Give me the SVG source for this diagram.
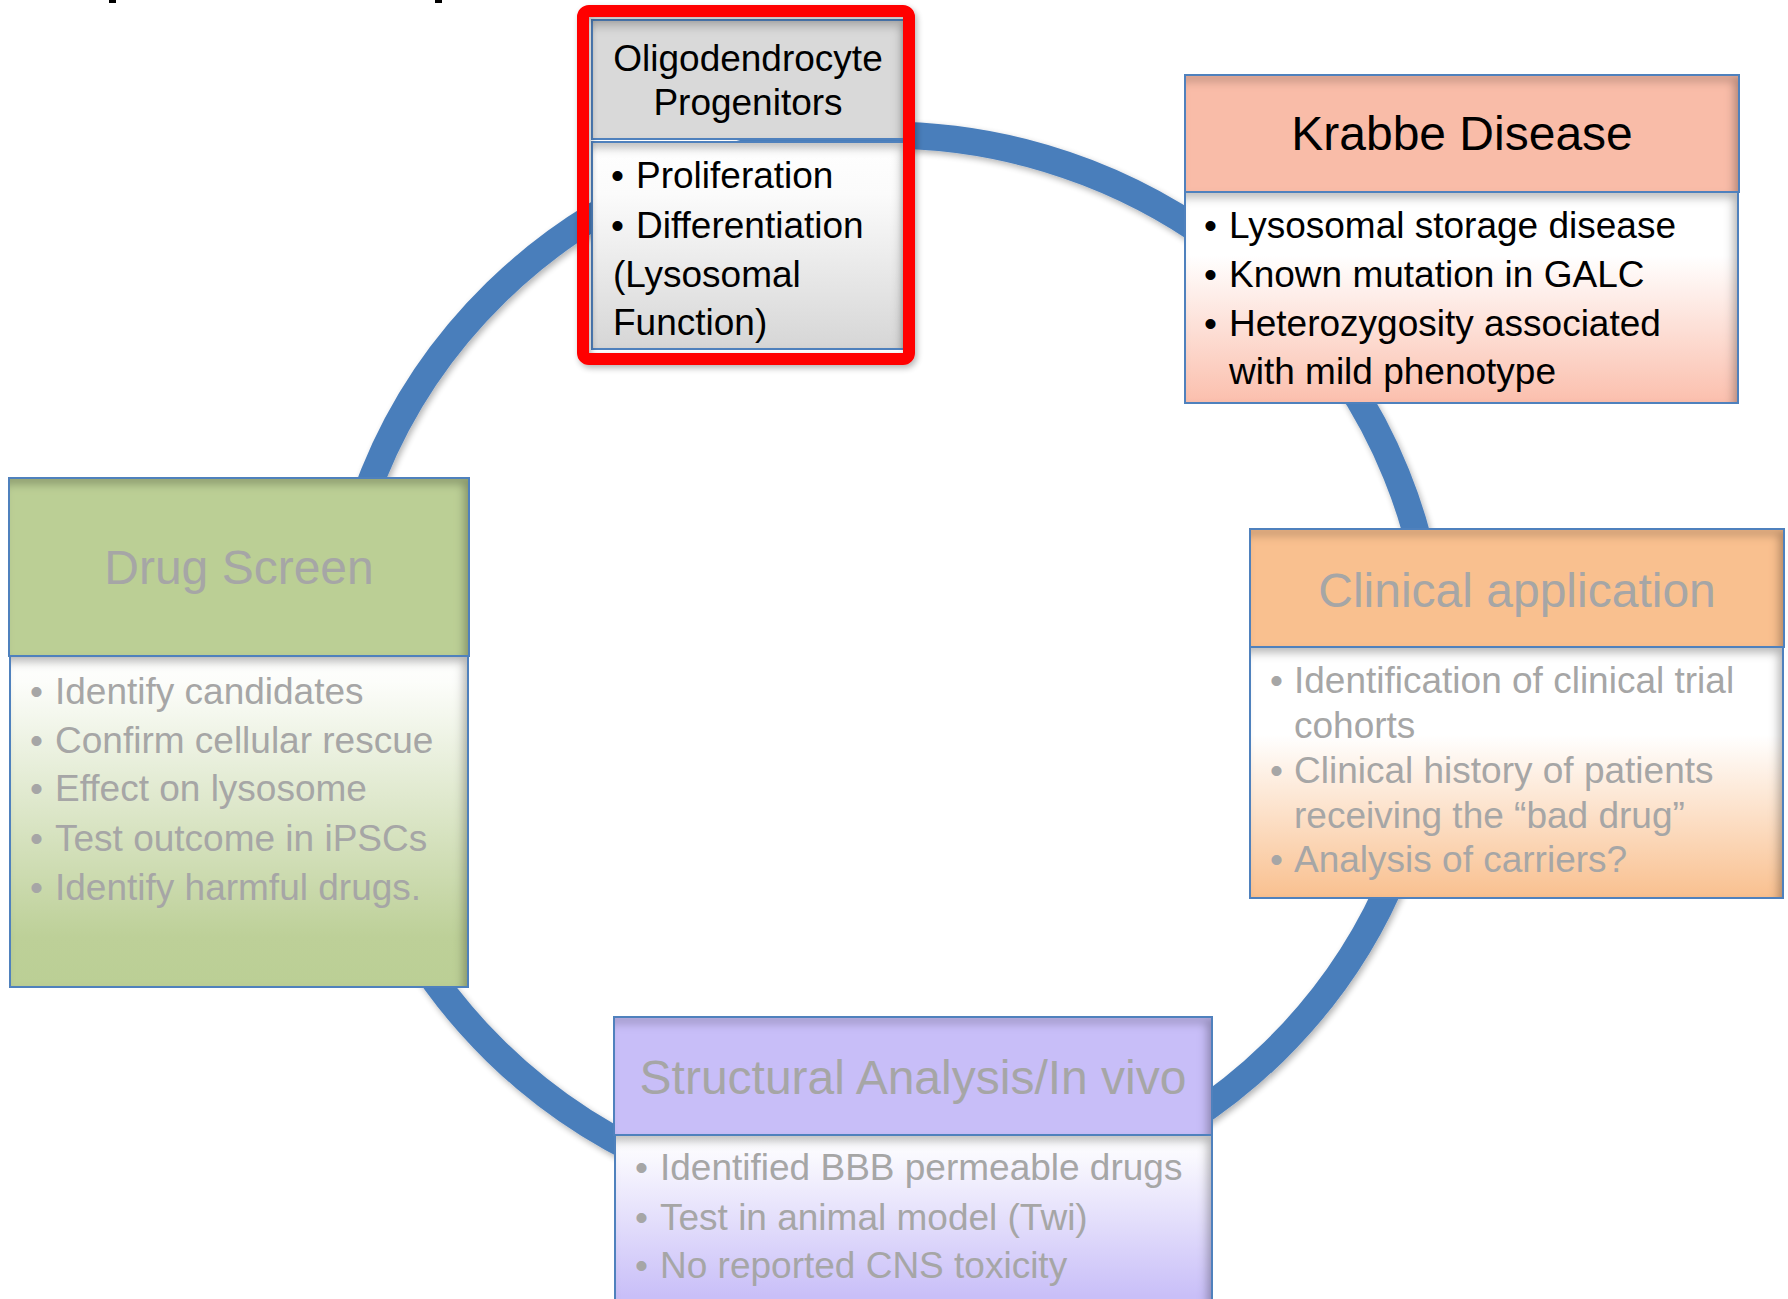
<svg xmlns="http://www.w3.org/2000/svg" width="1788" height="1299" viewBox="0 0 1788 1299">
<defs>
<style>
.t{font-family:"Liberation Sans",Arial,sans-serif;}
.h{font-size:48px;text-anchor:middle;}
.b{font-size:37px;}
.blk{fill:#000;}
.gry{fill:#a6a6a6;}
.edge{fill:none;stroke:#4f81bd;stroke-width:2;}
</style>
<filter id="inset" x="-5%" y="-5%" width="110%" height="110%">
<feFlood flood-color="#000" flood-opacity="0.55" result="f"/>
<feComposite in="f" in2="SourceAlpha" operator="out" result="o"/>
<feGaussianBlur in="o" stdDeviation="5" result="bl"/>
<feOffset in="bl" dx="-5" dy="6" result="off"/>
<feComposite in="off" in2="SourceAlpha" operator="in" result="sh"/>
<feMerge><feMergeNode in="SourceGraphic"/><feMergeNode in="sh"/></feMerge>
</filter>
<filter id="ds" x="-10%" y="-10%" width="120%" height="120%">
<feGaussianBlur in="SourceAlpha" stdDeviation="3"/>
<feOffset dx="2" dy="3" result="o"/>
<feComponentTransfer in="o" result="s"><feFuncA type="linear" slope="0.3"/></feComponentTransfer>
<feMerge><feMergeNode in="s"/><feMergeNode in="SourceGraphic"/></feMerge>
</filter>
<linearGradient id="gGray" x1="0" y1="0" x2="0" y2="1"><stop offset="0" stop-color="#fff"/><stop offset="0.25" stop-color="#fbfbfb"/><stop offset="1" stop-color="#d6d6d6"/></linearGradient>
<linearGradient id="gPink" x1="0" y1="0" x2="0" y2="1"><stop offset="0" stop-color="#fff"/><stop offset="0.3" stop-color="#fff"/><stop offset="1" stop-color="#fbbfad"/></linearGradient>
<linearGradient id="gGreen" x1="0" y1="0" x2="0" y2="1"><stop offset="0" stop-color="#fff"/><stop offset="0.08" stop-color="#fcfdfa"/><stop offset="0.85" stop-color="#bdd098"/><stop offset="1" stop-color="#bbcf95"/></linearGradient>
<linearGradient id="gOrange" x1="0" y1="0" x2="0" y2="1"><stop offset="0" stop-color="#fff"/><stop offset="0.35" stop-color="#fff"/><stop offset="1" stop-color="#f9c08f"/></linearGradient>
<linearGradient id="gLav" x1="0" y1="0" x2="0" y2="1"><stop offset="0" stop-color="#fff"/><stop offset="0.12" stop-color="#f8f7fe"/><stop offset="0.75" stop-color="#c9bff8"/><stop offset="1" stop-color="#c8bef8"/></linearGradient>
</defs>
<rect width="1788" height="1299" fill="#fff"/>
<rect x="109" y="0" width="7" height="3" fill="#000"/>
<rect x="435" y="0" width="7" height="3" fill="#000"/>

<g id="connectors">
<ellipse cx="885" cy="672" rx="550" ry="537" fill="none" stroke="#4a7ebb" stroke-width="27" filter="url(#ds)"/>
</g>

<g id="node-oligodendrocyte">
<rect x="592" y="20" width="314" height="119" fill="#d9d9d9" filter="url(#inset)"/>
<rect x="592" y="20" width="314" height="119" class="edge"/>
<rect x="592" y="142" width="314" height="207" fill="url(#gGray)" filter="url(#inset)"/>
<rect x="592" y="142" width="314" height="207" class="edge"/>
<rect x="583" y="11" width="326" height="348" rx="6" fill="none" stroke="#ff0000" stroke-width="12" filter="url(#ds)"/>
<text class="t h blk" font-size="37" x="748" y="71" style="font-size:37px">Oligodendrocyte</text>
<text class="t h blk" x="748" y="115" style="font-size:37px">Progenitors</text>
<text class="t b blk" y="188"><tspan x="611">•</tspan><tspan x="636">Proliferation</tspan></text>
<text class="t b blk" y="238"><tspan x="611">•</tspan><tspan x="636">Differentiation</tspan></text>
<text class="t b blk" x="613" y="287">(Lysosomal</text>
<text class="t b blk" x="613" y="335">Function)</text>
</g>

<g id="node-krabbe">
<rect x="1185" y="75" width="554" height="117" fill="#f9bca8" filter="url(#inset)"/>
<rect x="1185" y="75" width="554" height="117" class="edge"/>
<rect x="1185" y="192" width="553" height="211" fill="url(#gPink)" filter="url(#inset)"/>
<rect x="1185" y="192" width="553" height="211" class="edge"/>
<text class="t h blk" x="1462" y="150">Krabbe Disease</text>
<text class="t b blk" y="238"><tspan x="1204">•</tspan><tspan x="1229">Lysosomal storage disease</tspan></text>
<text class="t b blk" y="287"><tspan x="1204">•</tspan><tspan x="1229">Known mutation in GALC</tspan></text>
<text class="t b blk" y="336"><tspan x="1204">•</tspan><tspan x="1229">Heterozygosity associated</tspan></text>
<text class="t b blk" x="1229" y="384">with mild phenotype</text>
</g>

<g id="node-drug-screen">
<rect x="9" y="478" width="460" height="178" fill="#bbcf95" filter="url(#inset)"/>
<rect x="9" y="478" width="460" height="178" class="edge"/>
<rect x="10" y="656" width="458" height="331" fill="url(#gGreen)" filter="url(#inset)"/>
<rect x="10" y="656" width="458" height="331" class="edge"/>
<text class="t h gry" x="239" y="584">Drug Screen</text>
<text class="t b gry" y="704"><tspan x="30">•</tspan><tspan x="55">Identify candidates</tspan></text>
<text class="t b gry" y="753"><tspan x="30">•</tspan><tspan x="55">Confirm cellular rescue</tspan></text>
<text class="t b gry" y="801"><tspan x="30">•</tspan><tspan x="55">Effect on lysosome</tspan></text>
<text class="t b gry" y="851"><tspan x="30">•</tspan><tspan x="55">Test outcome in iPSCs</tspan></text>
<text class="t b gry" y="900"><tspan x="30">•</tspan><tspan x="55">Identify harmful drugs.</tspan></text>
</g>

<g id="node-clinical">
<rect x="1250" y="529" width="534" height="118" fill="#f9c08f" filter="url(#inset)"/>
<rect x="1250" y="529" width="534" height="118" class="edge"/>
<rect x="1250" y="647" width="533" height="251" fill="url(#gOrange)" filter="url(#inset)"/>
<rect x="1250" y="647" width="533" height="251" class="edge"/>
<text class="t h gry" x="1517" y="607">Clinical application</text>
<text class="t b gry" y="693"><tspan x="1270">•</tspan><tspan x="1294">Identification of clinical trial</tspan></text>
<text class="t b gry" x="1294" y="738">cohorts</text>
<text class="t b gry" y="783"><tspan x="1270">•</tspan><tspan x="1294">Clinical history of patients</tspan></text>
<text class="t b gry" x="1294" y="828">receiving the “bad drug”</text>
<text class="t b gry" y="872"><tspan x="1270">•</tspan><tspan x="1294">Analysis of carriers?</tspan></text>
</g>

<g id="node-structural">
<rect x="614" y="1017" width="598" height="118" fill="#c8bef8" filter="url(#inset)"/>
<rect x="614" y="1017" width="598" height="118" class="edge"/>
<rect x="615" y="1135" width="597" height="215" fill="url(#gLav)" filter="url(#inset)"/>
<rect x="615" y="1135" width="597" height="215" class="edge"/>
<text class="t h gry" x="913" y="1094">Structural Analysis/In vivo</text>
<text class="t b gry" y="1180"><tspan x="635">•</tspan><tspan x="660">Identified BBB permeable drugs</tspan></text>
<text class="t b gry" y="1230"><tspan x="635">•</tspan><tspan x="660">Test in animal model (Twi)</tspan></text>
<text class="t b gry" y="1278"><tspan x="635">•</tspan><tspan x="660">No reported CNS toxicity</tspan></text>
</g>
</svg>
